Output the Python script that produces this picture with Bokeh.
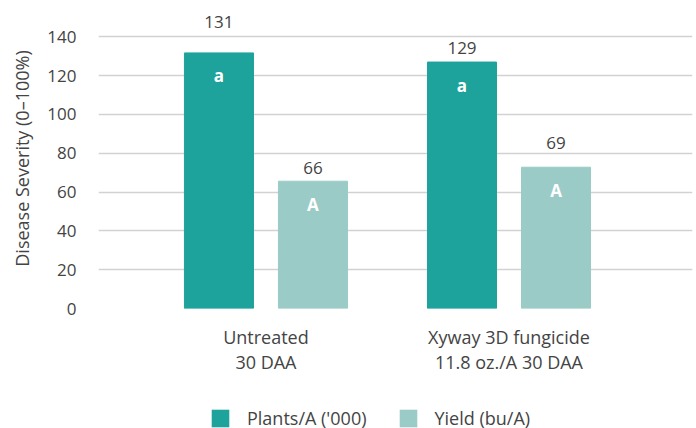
import numpy as np
from bokeh.plotting import figure
from bokeh.layouts import column
from bokeh.models import Range1d, FixedTicker, Legend, LegendItem, ColumnDataSource
from bokeh.core.properties import value
from bokeh.embed import file_html
from bokeh.resources import INLINE

# ---- data ----
categories = ["Untreated\n30 DAA", "Xyway 3D fungicide\n11.8 oz./A 30 DAA"]
series_names = ["Plants/A ('000)", "Yield (bu/A)"]
plants = [131.7, 127.0]          # bar heights as drawn
yield_bu = [65.6, 72.8]
plants_labels = ["131", "129"]   # printed values
yield_labels = ["66", "69"]
plants_letters = ["a", "a"]
yield_letters = ["A", "A"]
plants_label_y = [147.5, 134.0]  # where the printed values sit
yield_label_y = [72.5, 85.5]
y_ticks = [0, 20, 40, 60, 80, 100, 120, 140]

# ---- style ----
FONT = "Open Sans"
TXT = "#444444"
C_PLANTS = "#1DA39B"
C_YIELD = "#9BCBC6"
OFF = 0.1934
BW = 0.284

idx = np.arange(len(categories))

p = figure(width=696, height=398, output_backend="svg", toolbar_location=None,
           x_range=Range1d(-0.689, 1.755), y_range=Range1d(0, 154.6),
           min_border_left=98, min_border_right=4, min_border_top=8,
           min_border_bottom=90)
p.frame_width = 594
p.frame_height = 300
p.outline_line_color = None
p.background_fill_color = "white"

src_p = ColumnDataSource(dict(x=idx - OFF, top=plants, lab=plants_labels,
                              ly=plants_label_y, let=plants_letters))
src_y = ColumnDataSource(dict(x=idx + OFF, top=yield_bu, lab=yield_labels,
                              ly=yield_label_y, let=yield_letters))

r1 = p.vbar(x="x", top="top", width=BW, source=src_p, color=C_PLANTS)
r2 = p.vbar(x="x", top="top", width=BW, source=src_y, color=C_YIELD)

for s in (src_p, src_y):
    p.text(x="x", y="ly", text="lab", source=s, text_align="center",
           text_baseline="middle", text_font=value(FONT), text_font_size="17px",
           text_color=TXT)
    p.text(x="x", y="top", text="let", source=s, text_align="center",
           text_baseline="middle", y_offset=23, text_font=value(FONT),
           text_font_size="17px", text_font_style="bold", text_color="white")

# axes
p.xgrid.grid_line_color = None
p.ygrid.grid_line_color = "#d2d2d2"
p.ygrid.grid_line_width = 1.6
p.ygrid.ticker = FixedTicker(ticks=y_ticks)

p.yaxis.ticker = FixedTicker(ticks=y_ticks)
p.yaxis.axis_line_color = None
p.yaxis.major_tick_line_color = None
p.yaxis.minor_tick_line_color = None
p.yaxis.major_label_text_font = FONT
p.yaxis.major_label_text_font_size = "17px"
p.yaxis.major_label_text_color = TXT
p.yaxis.major_label_standoff = 16
p.yaxis.axis_label = "Disease Severity (0\u2013100%)"
p.yaxis.axis_label_text_font = FONT
p.yaxis.axis_label_text_font_size = "18px"
p.yaxis.axis_label_text_font_style = "normal"
p.yaxis.axis_label_text_color = TXT
p.yaxis.axis_label_standoff = 10

p.xaxis.ticker = FixedTicker(ticks=list(idx))
p.xaxis.major_label_overrides = {int(i): c for i, c in zip(idx, categories)}
p.xaxis.axis_line_color = None
p.xaxis.major_tick_line_color = None
p.xaxis.minor_tick_line_color = None
p.xaxis.major_label_text_font = FONT
p.xaxis.major_label_text_font_size = "18px"
p.xaxis.major_label_text_line_height = 1.05
p.xaxis.major_label_text_color = TXT
p.xaxis.major_label_standoff = 10

# ---- legend strip ----
lg = figure(width=696, height=30, output_backend="svg", toolbar_location=None,
            x_range=Range1d(0, 1), y_range=Range1d(0, 1),
            min_border_left=0, min_border_right=0, min_border_top=0,
            min_border_bottom=0, x_axis_type=None, y_axis_type=None)
lg.outline_line_color = None
lg.xgrid.grid_line_color = None
lg.ygrid.grid_line_color = None
# zero-height swatches: only the legend shows their colours
sw_p = ColumnDataSource(dict(x=[0.5], top=[0.0]))
sw_y = ColumnDataSource(dict(x=[0.5], top=[0.0]))
g1 = lg.vbar(x="x", top="top", width=0.0, source=sw_p, fill_color=C_PLANTS,
             line_color=None)
g2 = lg.vbar(x="x", top="top", width=0.0, source=sw_y, fill_color=C_YIELD,
             line_color=None)
legend = Legend(items=[LegendItem(label=series_names[0], renderers=[g1]),
                       LegendItem(label=series_names[1], renderers=[g2])],
                orientation="horizontal", location=(111, -2),
                glyph_width=22, glyph_height=22, label_height=22,
                label_standoff=16, spacing=30, padding=0, margin=0,
                border_line_color=None, background_fill_alpha=0,
                label_text_font=FONT, label_text_font_size="18px",
                label_text_color=TXT)
lg.add_layout(legend, "center")

layout = column(p, lg, spacing=0)
open("out.html", "w").write(file_html(layout, INLINE))
